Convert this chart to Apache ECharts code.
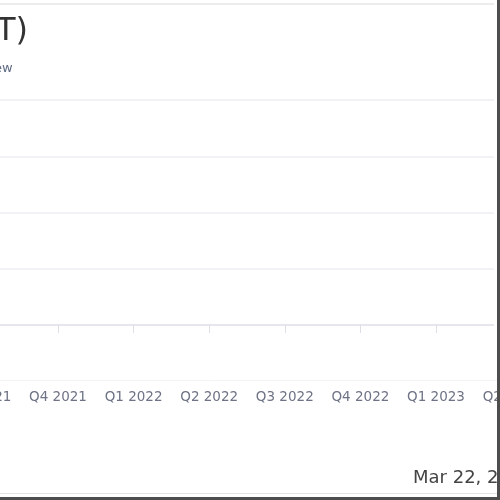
<!DOCTYPE html>
<html>
<head>
<meta charset="utf-8">
<script src="https://cdn.jsdelivr.net/npm/echarts@6/dist/echarts.min.js"></script>
<style>
  html, body { margin: 0; padding: 0; background: #ffffff; overflow: hidden; width: 500px; height: 500px; }
  #chart { position: absolute; left: -150px; top: 0; width: 700px; height: 500px; }
  #frame { position: absolute; left: 0; top: 0; width: 500px; height: 500px; box-sizing: border-box;
           border-right: 3px solid #4d4d4d; border-bottom: 3px solid #4d4d4d; pointer-events: none; }
  #inner { position: absolute; left: 0; top: 493px; width: 497px; height: 1px; background: #e4e4e4; }
</style>
</head>
<body>
<div id="chart"></div>
<div id="inner"></div>
<div id="frame"></div>
<script>
// categories (quarters) on the x axis
const quarters = ['Q2 2021', 'Q3 2021', 'Q4 2021', 'Q1 2022', 'Q2 2022', 'Q3 2022', 'Q4 2022', 'Q1 2023', 'Q2 2023'];
// no series marks are visible in the reference crop
const seriesValues = [];
// texts
const titleText = 'T)';
const subtitleText = 'ew';
const dateText = 'Mar 22, 2023';

const OFF = 150; // container shift

const chart = echarts.init(document.getElementById('chart'));
chart.setOption({
  animation: false,
  textStyle: { fontFamily: 'DejaVu Sans, sans-serif' },
  title: [
    { text: titleText, left: OFF - 9, top: 11,
      textStyle: { fontSize: 32, fontWeight: 'normal', color: '#333333' } },
    { text: subtitleText, left: OFF - 11, top: 57,
      textStyle: { fontSize: 13, fontWeight: 'normal', color: '#5f6b85' } },
    { text: dateText, left: OFF + 408, top: 464,
      textStyle: { fontSize: 18, fontWeight: 'normal', color: '#444444' } }
  ],
  grid: { left: OFF - 93.2, right: 700 - (OFF + 511.6), top: 100, bottom: 175, containLabel: false },
  xAxis: [
    {
      type: 'category', data: quarters, boundaryGap: false,
      axisLine: { show: true, lineStyle: { color: '#e1e4ea', width: 1.5 } },
      axisTick: { show: true, length: 8, interval: 0, lineStyle: { color: '#dcdfe6' } },
      axisLabel: { show: false },
      splitLine: { show: false }
    },
    {
      type: 'category', data: quarters, boundaryGap: false, position: 'bottom', offset: 55,
      axisLine: { show: true, lineStyle: { color: '#f3f4f6', width: 1 } },
      axisTick: { show: false },
      axisLabel: { show: true, interval: 0, margin: 10, fontSize: 13.5, color: '#6e7385' },
      splitLine: { show: false }
    }
  ],
  yAxis: {
    type: 'value', min: 0, max: 4, interval: 1,
    axisLine: { show: false }, axisTick: { show: false }, axisLabel: { show: false },
    splitLine: { show: true, lineStyle: { color: '#eceef2', width: 1.5 } }
  },
  graphic: [
    { type: 'line', shape: { x1: 0, y1: 4, x2: OFF + 494, y2: 4 },
      style: { stroke: '#ececec', lineWidth: 2 }, silent: true },
    { type: 'rect', shape: { x: OFF + 494, y: 0, width: 10, height: 340 },
      style: { fill: '#ffffff' }, z: 100, silent: true }
  ],
  series: [
    { type: 'line', xAxisIndex: 0, data: seriesValues, symbol: 'none' }
  ]
});
</script>
</body>
</html>
